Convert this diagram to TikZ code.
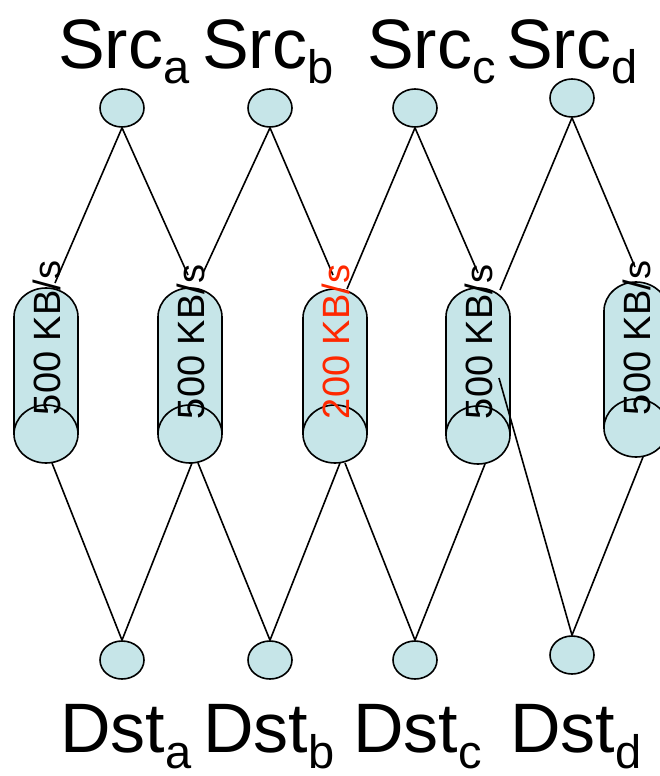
\documentclass[tikz,border=0pt]{standalone}
\usepackage{fontspec}
\setmainfont{Liberation Sans}
\usetikzlibrary{shapes.geometric}
\definecolor{pipefill}{RGB}{198,229,232}
\definecolor{slowred}{RGB}{255,40,0}
\newcommand{\subtxt}[1]{\raisebox{-16pt}{\fontsize{47}{47}\selectfont #1}}
\tikzset{
	host/.style={ellipse, draw, fill=pipefill, line width=1.6pt, inner sep=0, minimum width=44pt, minimum height=38pt},
	pipe/.style={draw, fill=pipefill, line width=1.6pt},
	rate/.style={rotate=90, inner sep=0, font=\fontsize{38}{38}\selectfont},
	hostlabel/.style={anchor=base west, inner sep=0, font=\fontsize{70}{70}\selectfont},
	link/.style={line width=1.6pt}
}
\begin{document}
\begin{tikzpicture}[x=1pt,y=-1pt]
		\useasboundingbox (0,0) rectangle (659,776);
		\node [hostlabel] (LSa) at (58,68) {Src\subtxt{a}};
		\node [hostlabel] (LSb) at (202,68) {Src\subtxt{b}};
		\node [hostlabel] (LSc) at (367,68) {Src\subtxt{c}};
		\node [hostlabel] (LSd) at (506,68) {Src\subtxt{d}};
		\node [hostlabel] (LDa) at (60,752) {Dst\subtxt{a}};
		\node [hostlabel] (LDb) at (203,752) {Dst\subtxt{b}};
		\node [hostlabel] (LDc) at (353,752) {Dst\subtxt{c}};
		\node [hostlabel] (LDd) at (510,752) {Dst\subtxt{d}};
		\node [host] (Sa) at (122,108) {};
		\node [host] (Sb) at (270,108) {};
		\node [host] (Sc) at (415,108) {};
		\node [host] (Sd) at (572,98) {};
		\node [host] (Da) at (122,660) {};
		\node [host] (Db) at (270,660) {};
		\node [host] (Dc) at (415,660) {};
		\node [host] (Dd) at (572,655) {};
		\foreach \x/\t/\b [count=\i] in {46/317/434, 190/317/434, 335/318/434, 478/317/435, 636/311/428} {
			\path [pipe] (\x+32,\b) -- (\x+32,\t) arc [start angle=0, end angle=180, x radius=32pt, y radius=29pt] -- (\x-32,\b) -- cycle;
			\path [pipe] (\x,\b) ellipse [x radius=32pt, y radius=29pt];
			\coordinate (P\i) at (\x,\b);
		}
		\coordinate (in1) at (55,283);
		\coordinate (in2) at (188,275);
		\coordinate (in3) at (203,273);
		\coordinate (in4) at (333,275);
		\coordinate (in5) at (347,289);
		\coordinate (in6) at (478,273);
		\coordinate (in7) at (500,290);
		\coordinate (in8) at (635,267);
		\coordinate (out1) at (52,463);
		\coordinate (out2) at (192,463);
		\coordinate (out3) at (198,463);
		\coordinate (out4) at (340,463);
		\coordinate (out5) at (345,463);
		\coordinate (out6) at (485,464);
		\coordinate (out7) at (499,378);
		\coordinate (out8) at (643,457);
		\draw [link] (Sa.south) -- (in1);
		\draw [link] (Sa.south) -- (in2);
		\draw [link] (Sb.south) -- (in3);
		\draw [link] (Sb.south) -- (in4);
		\draw [link] (Sc.south) -- (in5);
		\draw [link] (Sc.south) -- (in6);
		\draw [link] (Sd.south) -- (in7);
		\draw [link] (Sd.south) -- (in8);
		\draw [link] (out1) -- (Da.north);
		\draw [link] (out2) -- (Da.north);
		\draw [link] (out3) -- (Db.north);
		\draw [link] (out4) -- (Db.north);
		\draw [link] (out5) -- (Dc.north);
		\draw [link] (out6) -- (Dc.north);
		\draw [link] (out7) -- (Dd.north);
		\draw [link] (out8) -- (Dd.north);
		\node [rate] (R1) at (47,338) {500 KB/s};
		\node [rate] (R2) at (191,342) {500 KB/s};
		\node [rate] (R3) at (336,342) {\textcolor{slowred}{200 KB/s}};
		\node [rate] (R4) at (479,342) {500 KB/s};
		\node [rate] (R5) at (637,338) {500 KB/s};
	\end{tikzpicture}
\end{document}
